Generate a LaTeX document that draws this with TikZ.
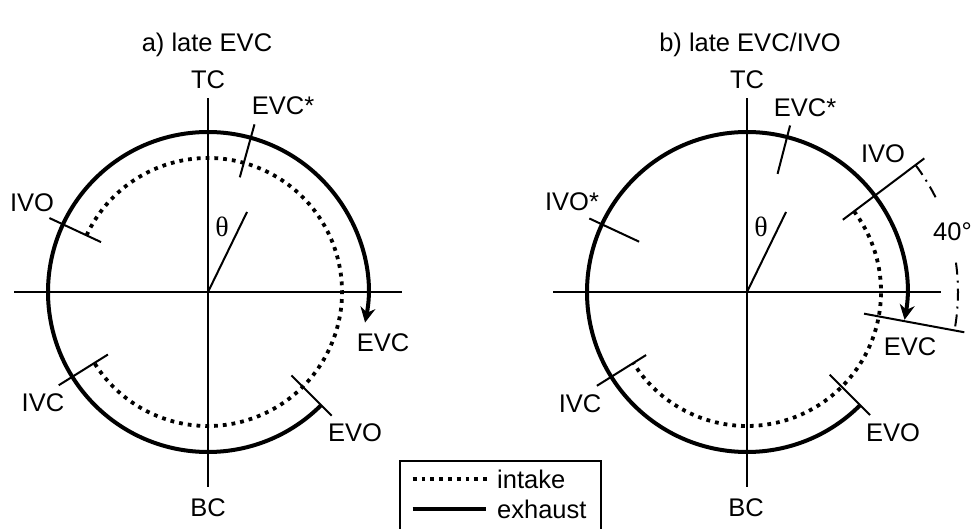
\documentclass[tikz,border=0pt]{standalone}
\usepackage{fontspec}
\setmainfont{Liberation Sans}
\newfontfamily\serifth{Liberation Serif}
\usetikzlibrary{arrows.meta}
\begin{document}
\begin{tikzpicture}[x=1pt,y=1pt,
  lbl/.style={font=\fontsize{25.5}{30}\selectfont, inner sep=0pt},
  thl/.style={font=\serifth\fontsize{28}{32}\selectfont, inner sep=0pt},
  axisln/.style={line width=2pt},
  tickln/.style={line width=2pt},
  exh/.style={line width=4pt},
  intk/.style={line width=3.8pt, dash pattern=on 3.8pt off 5pt},
  dimln/.style={line width=2pt, dash pattern=on 12pt off 6pt on 2pt off 6pt},
  tipend/.style={-{Stealth[length=15pt,width=15pt,inset=5pt]}}
]
\useasboundingbox (0,0) rectangle (971,529);

% ---------- a) late EVC ----------
\node[lbl] (ta) at (207,484) {a) late EVC};
\begin{scope}[shift={(208,237)}]
  \coordinate (ao) at (0,0);
  \coordinate (al) at (-194,0);
  \coordinate (ar) at (194,0);
  \coordinate (at) at (0,194);
  \coordinate (ab) at (0,-195);
  \draw[axisln] (al) -- (ar);
  \draw[axisln] (ab) -- (at);
  \draw[exh, tipend] (-45:160) arc[start angle=-45, end angle=-371, radius=160];
  \draw[intk] (155:134) arc[start angle=155, end angle=-148, radius=134];
  \draw[tickln] (155:118) -- (155:175);
  \draw[tickln] (212:118) -- (212:176);
  \draw[tickln] (-45:118) -- (-45:175);
  \draw[tickln] (74.5:119) -- (74.5:174);
  \coordinate (ath) at (64:89);
  \draw[tickln] (ao) -- (ath);
\end{scope}
\node[lbl] (aTC) at (208,449) {TC};
\node[lbl] (aBC) at (208,21) {BC};
\node[lbl] (aEVCs) at (283,423) {EVC*};
\node[lbl] (aIVO) at (32,326) {IVO};
\node[thl] (ath) at (222,302) {θ};
\node[lbl] (aEVC) at (383,186) {EVC};
\node[lbl] (aIVC) at (43,126) {IVC};
\node[lbl] (aEVO) at (355,96) {EVO};

% ---------- b) late EVC/IVO ----------
\node[lbl] (tb) at (750,484) {b) late EVC/IVO};
\begin{scope}[shift={(747,237)}]
  \coordinate (bo) at (0,0);
  \coordinate (bl) at (-194,0);
  \coordinate (br) at (194,0);
  \coordinate (bt) at (0,194);
  \coordinate (bb) at (0,-195);
  \draw[axisln] (bl) -- (br);
  \draw[axisln] (bb) -- (bt);
  \draw[exh, tipend] (-45:160) arc[start angle=-45, end angle=-370, radius=160];
  \draw[intk] (37:134) arc[start angle=37, end angle=-148, radius=134];
  \draw[tickln] (155:119) -- (155:174);
  \draw[tickln] (212:119) -- (212:177);
  \draw[tickln] (-45:117) -- (-45:174);
  \draw[tickln] (75.5:122) -- (75.5:172);
  \draw[tickln] (37:120) -- (37:222);
  \draw[tickln] (-10.5:119) -- (-10.5:221);
  \draw[dimln] (37:211) arc[start angle=37, end angle=26, radius=211];
  \draw[dimln] (8:211) arc[start angle=8, end angle=-10.5, radius=211];
  \coordinate (bth) at (64:89);
  \draw[tickln] (bo) -- (bth);
\end{scope}
\node[lbl] (bTC) at (747,449) {TC};
\node[lbl] (bBC) at (746,21) {BC};
\node[lbl] (bEVCs) at (805,421) {EVC*};
\node[lbl] (bIVOs) at (572,327) {IVO*};
\node[lbl] (bIVO) at (883,375) {IVO};
\node[thl] (bth) at (761,302) {θ};
\node[lbl, anchor=west] (b40) at (933,297) {40°};
\node[lbl] (bEVC) at (910,182) {EVC};
\node[lbl] (bIVC) at (580,125) {IVC};
\node[lbl] (bEVO) at (893,96) {EVO};

% ---------- legend ----------
\coordinate (lg1) at (400,0);
\coordinate (lg2) at (400,68.3);
\coordinate (lg3) at (600.7,68.3);
\coordinate (lg4) at (600.7,0);
\draw[line width=2pt] (lg1) -- (lg2) -- (lg3) -- (lg4);
\coordinate (li1) at (412.7,50);
\coordinate (li2) at (490,50);
\coordinate (le1) at (412.7,20);
\coordinate (le2) at (486,20);
\draw[intk] (li1) -- (li2);
\draw[exh] (le1) -- (le2);
\node[lbl, anchor=west] (lint) at (497,50) {intake};
\node[lbl, anchor=west] (lexh) at (497,20) {exhaust};
\end{tikzpicture}
\end{document}
